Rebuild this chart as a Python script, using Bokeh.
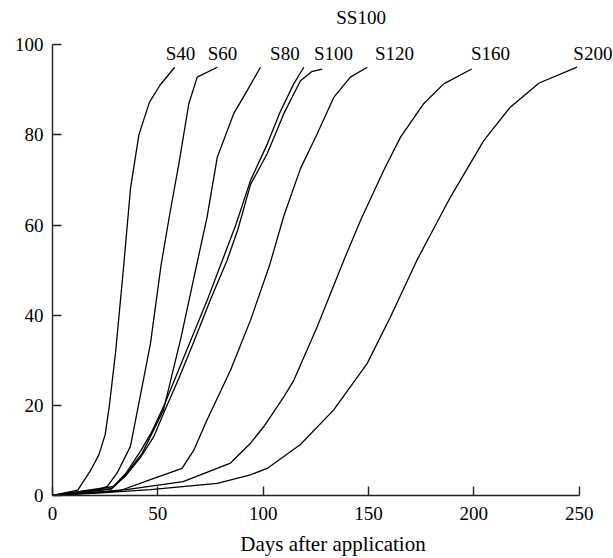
from bokeh.plotting import figure
from bokeh.models import ColumnDataSource, LabelSet, FixedTicker, Range1d
from bokeh.embed import file_html
from bokeh.resources import INLINE

# Days after application (x) and cumulative value (y) per series
S40_days = [0, 12, 18, 22, 25, 27, 30, 34, 37, 41, 46, 51, 58]
S40_vals = [0, 1.2, 5.5, 9, 13.5, 20, 32, 52, 68, 80, 87.2, 91, 95]

S60_days = [0, 22, 26, 30.7, 37, 41, 46.5, 51.5, 55.5, 60, 64.7, 68.7, 78.2]
S60_vals = [0, 1.3, 2, 5, 10.9, 20.5, 33.7, 51, 62, 73.6, 86.9, 92.8, 95]

S80_days = [0, 29, 35.4, 42.6, 52.7, 61, 67.9, 73.4, 78.2, 86, 92.4, 98.7]
S80_vals = [0, 2, 5, 9.4, 19, 35, 50, 61.8, 75, 84.7, 89.8, 95]

SS100_days = [0, 28, 35, 42, 47, 53, 60, 67, 74, 80.5, 87, 94, 102, 108, 114.5, 119.3]
SS100_vals = [0, 1.5, 5, 10, 14, 20, 28, 36, 44, 52, 60, 69.9, 78, 85, 91.3, 95]

S100_days = [0, 28, 35, 42, 48, 53, 60, 67, 75, 82.9, 88, 94, 101.9, 109.8, 117.7, 123, 128]
S100_vals = [0, 1.5, 4.5, 8.6, 13, 18.5, 26, 34, 43.5, 52.2, 59, 69, 75.8, 84.7, 92, 94, 94.6]

S120_days = [0, 31.5, 46.5, 61.5, 67, 73.4, 84.5, 94, 103, 109.8, 117.7, 125.6, 133.5, 141.4, 149.4]
S120_vals = [0, 1, 3.5, 6, 10, 16.8, 27.8, 38.9, 51, 62, 72.5, 80.2, 88.3, 92.8, 95]

S160_days = [0, 35, 62, 84.5, 94, 100.3, 109.8, 114.5, 125.6, 138.3, 146.2, 157.2, 165.2, 176.2, 185.7, 199]
S160_vals = [0, 1.3, 3.1, 7.2, 11.6, 15.3, 21.9, 25.5, 37.4, 52.2, 61, 72.1, 79.5, 86.9, 91.3, 94.6]

S200_days = [0, 23, 46.5, 78.2, 94, 101.9, 117.7, 133.5, 149.4, 160.4, 173, 188.9, 204.7, 217, 231, 249]
S200_vals = [0, 0.6, 1.3, 2.7, 4.6, 6, 11.3, 19, 29.3, 39.6, 52.2, 66.2, 78.7, 86, 91.5, 95]

series = [
    (S40_days, S40_vals), (S60_days, S60_vals), (S80_days, S80_vals),
    (SS100_days, SS100_vals), (S100_days, S100_vals), (S120_days, S120_vals),
    (S160_days, S160_vals), (S200_days, S200_vals),
]

# Curve labels
label_names = ["S40", "S60", "S80", "S100", "S120", "S160", "S200", "SS100"]
label_x = [60.8, 80.7, 110.3, 133.4, 162.3, 207.9, 256.5, 146.5]
label_y = [98, 98, 98, 98, 98, 98, 98, 106]

x_ticks = [0, 50, 100, 150, 200, 250]
y_ticks = [0, 20, 40, 60, 80, 100]

FONT = "Liberation Serif"

p = figure(width=613, height=558, output_backend="svg", toolbar_location=None,
           x_range=Range1d(0, 266.3), y_range=Range1d(0, 109.8),
           min_border_left=52, min_border_right=0, min_border_top=0, min_border_bottom=62)
p.outline_line_color = None
p.xgrid.visible = False
p.ygrid.visible = False
p.background_fill_color = "white"
p.border_fill_color = "white"

for xs, ys in series:
    p.line(xs, ys, line_color="black", line_width=1.3)

src = ColumnDataSource(dict(x=label_x, y=label_y, t=label_names))
labels = LabelSet(x="x", y="y", text="t", source=src, text_align="center",
                  text_baseline="middle", text_font=FONT, text_font_size="19px",
                  text_color="black")
p.add_layout(labels)

for ax in (p.xaxis[0], p.yaxis[0]):
    ax.axis_line_color = "#222222"
    ax.axis_line_width = 1.4
    ax.major_tick_line_color = "#222222"
    ax.major_tick_line_width = 1.4
    ax.major_tick_in = 9
    ax.major_tick_out = 0
    ax.minor_tick_line_color = None
    ax.major_label_text_font = FONT
    ax.major_label_text_font_size = "19px"
    ax.major_label_text_color = "black"

p.xaxis[0].bounds = (0, 250)
p.yaxis[0].bounds = (0, 100)
p.xaxis[0].ticker = FixedTicker(ticks=x_ticks)
p.yaxis[0].ticker = FixedTicker(ticks=y_ticks)
p.xaxis[0].major_label_standoff = 11
p.yaxis[0].major_label_standoff = 9
p.xaxis[0].axis_label = "Days after application"
p.xaxis[0].axis_label_text_font = FONT
p.xaxis[0].axis_label_text_font_size = "21px"
p.xaxis[0].axis_label_text_font_style = "normal"
p.xaxis[0].axis_label_text_color = "black"
p.xaxis[0].axis_label_standoff = 9

open("out.html", "w").write(file_html(p, INLINE))
